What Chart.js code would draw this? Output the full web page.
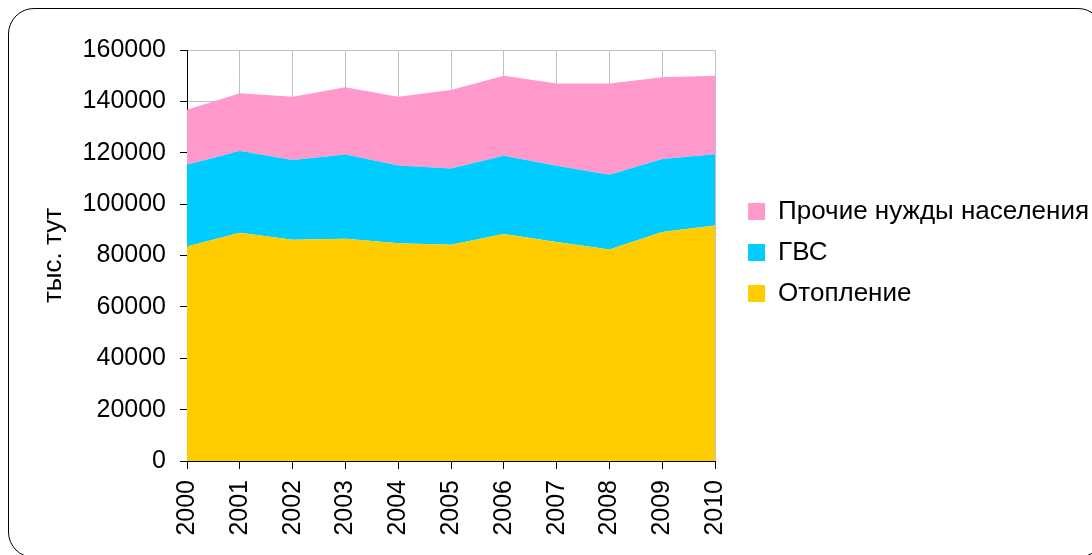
<!DOCTYPE html>
<html>
<head>
<meta charset="utf-8">
<script src="https://cdn.jsdelivr.net/npm/chart.js@4/dist/chart.umd.min.js"></script>
<style>
  body { margin: 0; background: #fff; }
  #wrap { position: relative; width: 1092px; height: 555px; overflow: hidden; }
  #frame {
    position: absolute; left: 8px; top: 8px; width: 1096px; height: 550px;
    border: 1.5px solid #000; border-radius: 26px; box-sizing: border-box;
  }
  #chartPlace { position: absolute; left: 0; top: 0; }
</style>
</head>
<body>
<div id="wrap">
  <div id="frame"></div>
  <canvas id="chartPlace" width="1092" height="555"></canvas>
</div>
<script>
const years = ["2000","2001","2002","2003","2004","2005","2006","2007","2008","2009","2010"];
const heating = [83500, 88900, 86100, 86500, 84800, 84200, 88400, 85300, 82300, 89100, 91700];
const hotWater = [31800, 31800, 31100, 32800, 30200, 29700, 30400, 29600, 29100, 28500, 27700];
const otherNeeds = [21400, 22500, 24600, 26200, 26800, 30500, 31200, 32100, 35600, 31800, 30600];
const seriesNames = ["Отопление", "ГВС", "Прочие нужды населения"];
const seriesColors = ["#FFCC00", "#00CCFF", "#FF99CC"];
const yTicks = [0, 20000, 40000, 60000, 80000, 100000, 120000, 140000, 160000];

const fontFamily = "'Liberation Sans', Arial, sans-serif";
const gridGray = "#c0c0c0";

// push the legend a bit away from the plot and up
const legendShift = {
  id: 'legendShift',
  afterLayout(chart) {
    chart.legend.left += 18;
    chart.legend.right += 18;
    chart.legend.top -= 50;
    chart.legend.bottom -= 50;
  }
};

function createChart() {
  var ctx = document.getElementById("chartPlace").getContext('2d');
  var values = [heating, hotWater, otherNeeds];
  var datasets = [];
  for (var i = 0; i < values.length; i++) {
    datasets.push({
      label: seriesNames[i],
      data: values[i],
      backgroundColor: seriesColors[i],
      borderColor: seriesColors[i],
      borderWidth: 0,
      pointRadius: 0,
      tension: 0,
      fill: i == 0 ? 'origin' : '-1'
    });
  }

  Chart.defaults.font.family = fontFamily;
  Chart.defaults.color = "#000";

  new Chart(ctx, {
    type: 'line',
    data: { labels: years, datasets: datasets },
    plugins: [legendShift],
    options: {
      responsive: false,
      animation: false,
      layout: { padding: { left: 30, top: 50, right: 11, bottom: 0 } },
      plugins: {
        tooltip: { enabled: false },
        legend: {
          position: 'right',
          reverse: true,
          maxWidth: 420,
          labels: {
            boxWidth: 17,
            boxHeight: 17,
            padding: 15,
            color: "#000",
            font: { size: 26 }
          }
        }
      },
      scales: {
        x: {
          z: 1,
          offset: false,
          grid: {
            color: (c) => c.index === 0 ? 'rgba(0,0,0,0)' : gridGray,
            tickColor: "#000",
            tickLength: 8
          },
          border: { color: "#000" },
          ticks: {
            autoSkip: false,
            minRotation: 90,
            maxRotation: 90,
            padding: 11,
            color: "#000",
            font: { size: 25 }
          },
          afterFit: (s) => { s.height = 94; s.paddingRight = 0; }
        },
        y: {
          stacked: true,
          min: 0,
          max: 160000,
          afterBuildTicks: (s) => { s.ticks = yTicks.map(v => ({ value: v })); },
          grid: { color: gridGray, tickColor: "#000", tickLength: 7 },
          border: { color: "#000" },
          ticks: {
            padding: 14,
            color: "#000",
            font: { size: 25 },
            callback: (v) => String(v)
          },
          title: {
            display: true,
            text: "тыс. тут",
            color: "#000",
            font: { size: 26 },
            padding: { top: 8, bottom: 4 }
          },
          afterFit: (s) => { s.width = 157; s.paddingTop = 0; s.paddingBottom = 0; }
        }
      }
    }
  });
}

createChart();
</script>
</body>
</html>
